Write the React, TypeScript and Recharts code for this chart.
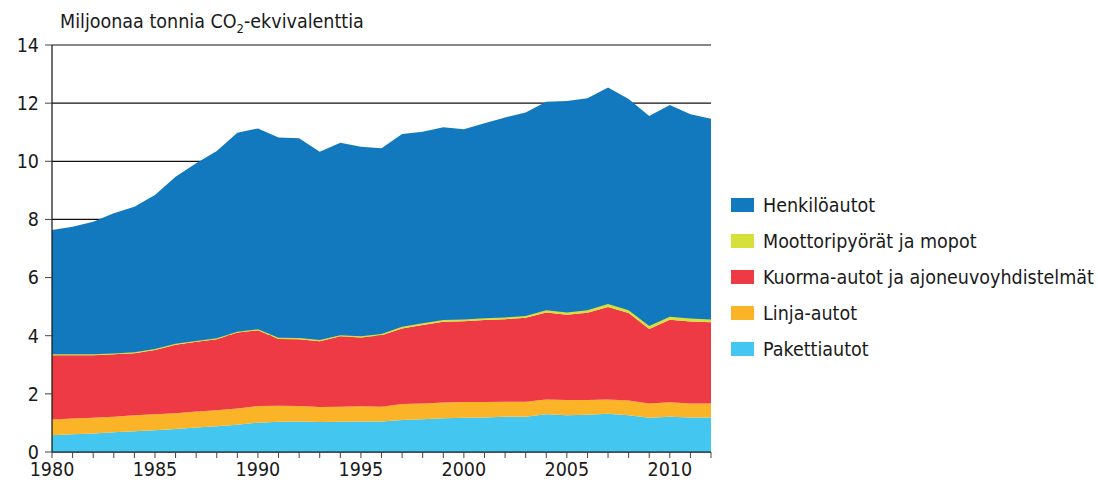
import React from 'react';
import { AreaChart, Area, XAxis, YAxis, CartesianGrid } from 'recharts';

const years = [
  1980, 1981, 1982, 1983, 1984, 1985, 1986, 1987, 1988, 1989, 1990,
  1991, 1992, 1993, 1994, 1995, 1996, 1997, 1998, 1999, 2000, 2001,
  2002, 2003, 2004, 2005, 2006, 2007, 2008, 2009, 2010, 2011, 2012,
];

const pakettiautot = [
  0.58, 0.61, 0.64, 0.68, 0.71, 0.75, 0.79, 0.84, 0.89, 0.94, 1.01,
  1.04, 1.05, 1.03, 1.04, 1.05, 1.05, 1.10, 1.13, 1.16, 1.18, 1.19,
  1.21, 1.21, 1.30, 1.26, 1.28, 1.32, 1.26, 1.18, 1.21, 1.19, 1.19,
];

const linjaautot = [
  0.54, 0.54, 0.54, 0.53, 0.55, 0.55, 0.54, 0.55, 0.55, 0.56, 0.57,
  0.55, 0.53, 0.52, 0.52, 0.52, 0.51, 0.55, 0.54, 0.54, 0.54, 0.53,
  0.52, 0.52, 0.51, 0.53, 0.51, 0.49, 0.51, 0.49, 0.50, 0.48, 0.48,
];

const kuormaautot = [
  2.21, 2.18, 2.15, 2.15, 2.14, 2.21, 2.36, 2.40, 2.44, 2.61, 2.61,
  2.30, 2.30, 2.26, 2.42, 2.37, 2.46, 2.60, 2.70, 2.78, 2.78, 2.82,
  2.84, 2.89, 2.99, 2.93, 3.00, 3.18, 3.01, 2.56, 2.84, 2.82, 2.79,
];

const moottoripyorat = [
  0.03, 0.03, 0.03, 0.03, 0.03, 0.03, 0.03, 0.03, 0.03, 0.03, 0.03,
  0.04, 0.04, 0.04, 0.04, 0.04, 0.04, 0.06, 0.06, 0.06, 0.06, 0.06,
  0.06, 0.06, 0.08, 0.08, 0.09, 0.10, 0.10, 0.10, 0.10, 0.10, 0.10,
];

const henkiloautot = [
  4.28, 4.39, 4.56, 4.82, 5.01, 5.30, 5.75, 6.11, 6.44, 6.84, 6.91,
  6.89, 6.87, 6.48, 6.62, 6.52, 6.39, 6.63, 6.59, 6.63, 6.54, 6.71,
  6.88, 7.00, 7.17, 7.27, 7.29, 7.45, 7.26, 7.23, 7.29, 7.03, 6.90,
];

const yTicks = [0, 2, 4, 6, 8, 10, 12, 14];

// stacking order bottom -> top
const SERIES = [
  { key: 'paketti', name: 'Pakettiautot', color: '#43C7F1', values: pakettiautot },
  { key: 'linja', name: 'Linja-autot', color: '#FBB427', values: linjaautot },
  { key: 'kuorma', name: 'Kuorma-autot ja ajoneuvoyhdistelmät', color: '#EE3A44', values: kuormaautot },
  { key: 'moto', name: 'Moottoripyörät ja mopot', color: '#D5E03B', values: moottoripyorat },
  { key: 'henkilo', name: 'Henkilöautot', color: '#1279BF', values: henkiloautot },
];

const data = years.map((year, i) => {
  const row: Record<string, number> = { year };
  SERIES.forEach(s => { row[s.key] = s.values[i]; });
  return row;
});

const FONT = "'DejaVu Sans Condensed', 'DejaVu Sans', sans-serif";
const TEXT = '#1a1a1a';

export default function App() {
  const legendItems = [...SERIES].reverse();
  return (
    <div style={{ position: 'absolute', left: 0, top: 0, width: 1098, height: 488, background: '#fff', fontFamily: FONT, fontStretch: 'condensed' }}>
      <div style={{ position: 'absolute', left: 60, top: 10, fontSize: 19.5, color: TEXT, whiteSpace: 'nowrap' }}>
        Miljoonaa tonnia CO<sub style={{ fontSize: 13 }}>2</sub>-ekvivalenttia
      </div>
      <AreaChart
        width={1098}
        height={488}
        data={data}
        margin={{ top: 45, right: 387, bottom: 0, left: 0 }}
      >
        <CartesianGrid horizontal vertical={false} stroke="#111" strokeWidth={1.2} />
        <XAxis
          dataKey="year"
          type="number"
          domain={[1980, 2012]}
          ticks={years}
          interval={0}
          height={36}
          tickFormatter={(v: number) => (v % 5 === 0 ? String(v) : '')}
          tickLine={{ stroke: '#444' }}
          tickSize={6}
          axisLine={{ stroke: '#111', strokeWidth: 1.2 }}
          tick={{ fill: TEXT, fontSize: 19.5, fontFamily: FONT }}
          tickMargin={4}
        />
        <YAxis
          domain={[0, 14]}
          ticks={yTicks}
          width={52}
          interval={0}
          tickLine={{ stroke: '#444' }}
          tickSize={7}
          axisLine={{ stroke: '#111', strokeWidth: 1.2 }}
          tick={{ fill: TEXT, fontSize: 19.5, fontFamily: FONT }}
          tickMargin={6}
        />
        {SERIES.map(s => (
          <Area
            key={s.key}
            dataKey={s.key}
            name={s.name}
            stackId="1"
            type="linear"
            fill={s.color}
            fillOpacity={1}
            stroke={s.key === 'moto' ? s.color : 'none'}
            strokeWidth={s.key === 'moto' ? 1.5 : 0}
            isAnimationActive={false}
          />
        ))}
      </AreaChart>
      <div style={{ position: 'absolute', left: 731, top: 187 }}>
        {legendItems.map(s => (
          <div key={s.key} style={{ display: 'flex', alignItems: 'center', height: 36, fontSize: 19.5, color: TEXT, whiteSpace: 'nowrap' }}>
            <span style={{ display: 'inline-block', width: 23, height: 14, background: s.color, marginRight: 9 }} />
            {s.name}
          </div>
        ))}
      </div>
    </div>
  );
}
